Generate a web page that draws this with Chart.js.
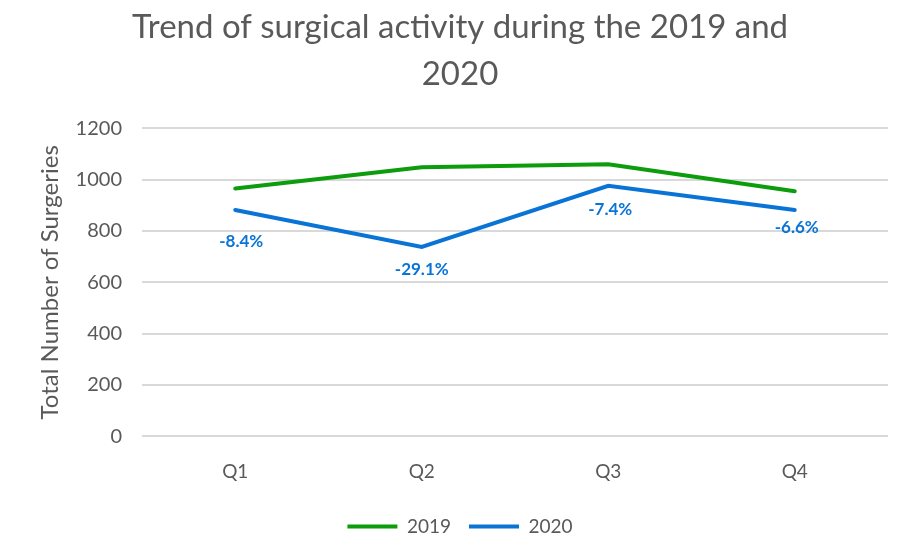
<!DOCTYPE html>
<html>
<head>
<meta charset="utf-8">
<script src="https://cdn.jsdelivr.net/npm/chart.js@4"></script>
<style>
    html, body { margin: 0; padding: 0; background: #fff; }
    #wrap { width: 904px; height: 550px; }
</style>
</head>
<body>
<div id="wrap"><canvas id="chart" width="904" height="550"></canvas></div>
<script>
// --- Data ---
const quarters = ["Q1", "Q2", "Q3", "Q4"];
const surgeries2019 = [966, 1048, 1060, 955];
const surgeries2020 = [882, 738, 976, 882];
const changeLabels = ["-8.4%", "-29.1%", "-7.4%", "-6.6%"];
const yTicks = [0, 200, 400, 600, 800, 1000, 1200];

const GREEN = "#0c9c0c";
const BLUE = "#0a74d6";
const TEXT = "#595959";
const FONT = "Lato, 'Open Sans', sans-serif";

// Draws the % change under each 2020 point
const changeLabelPlugin = {
    id: "changeLabels",
    afterDatasetsDraw(chart) {
        const meta = chart.getDatasetMeta(1);
        const ctx = chart.ctx;
        const offsets = [[6, 32], [0, 23], [2, 24], [2, 18]];
        ctx.save();
        ctx.font = "bold 17px " + FONT;
        ctx.fillStyle = BLUE;
        ctx.textAlign = "center";
        ctx.textBaseline = "middle";
        meta.data.forEach((pt, i) => {
            ctx.fillText(changeLabels[i], pt.x + offsets[i][0], pt.y + offsets[i][1]);
        });
        ctx.restore();
    }
};

new Chart(document.getElementById("chart"), {
    type: "line",
    data: {
        labels: quarters,
        datasets: [
            { label: "2019", data: surgeries2019, borderColor: GREEN, backgroundColor: GREEN },
            { label: "2020", data: surgeries2020, borderColor: BLUE, backgroundColor: BLUE }
        ]
    },
    options: {
        responsive: false,
        animation: false,
        layout: { padding: { left: 32, right: 16, top: 0, bottom: 4 } },
        elements: {
            line: { borderWidth: 4, tension: 0, borderCapStyle: "round" },
            point: { radius: 0, hoverRadius: 0 }
        },
        plugins: {
            title: {
                display: true,
                text: ["Trend of surgical activity during the 2019 and", "2020"],
                color: TEXT,
                font: { family: FONT, size: 33, weight: "normal", lineHeight: 1.43 },
                padding: { top: 4, bottom: 30 }
            },
            legend: {
                position: "bottom",
                labels: {
                    color: TEXT,
                    font: { family: FONT, size: 19 },
                    boxWidth: 50,
                    boxHeight: 4,
                    padding: 18,
                    generateLabels(chart) {
                        return chart.data.datasets.map((ds, i) => ({
                            text: ds.label,
                            fillStyle: ds.borderColor,
                            strokeStyle: ds.borderColor,
                            lineWidth: 0,
                            fontColor: TEXT,
                            datasetIndex: i
                        }));
                    }
                }
            },
            tooltip: { enabled: false }
        },
        scales: {
            x: {
                offset: true,
                grid: { display: false },
                border: { display: false },
                ticks: { color: TEXT, font: { family: FONT, size: 19 }, padding: 16 }
            },
            y: {
                min: 0,
                max: 1200,
                afterBuildTicks(axis) { axis.ticks = yTicks.map(v => ({ value: v })); },
                afterFit(axis) { axis.width = 110; },
                grid: { color: "#d9d9d9", lineWidth: 2, drawTicks: false },
                border: { display: false },
                ticks: {
                    color: TEXT,
                    font: { family: FONT, size: 20 },
                    padding: 20,
                    callback: v => String(v)
                },
                title: {
                    display: true,
                    text: "Total Number of Surgeries",
                    color: TEXT,
                    font: { family: FONT, size: 24 },
                    padding: { top: 4, bottom: 4 }
                }
            }
        }
    },
    plugins: [changeLabelPlugin]
});
</script>
</body>
</html>
